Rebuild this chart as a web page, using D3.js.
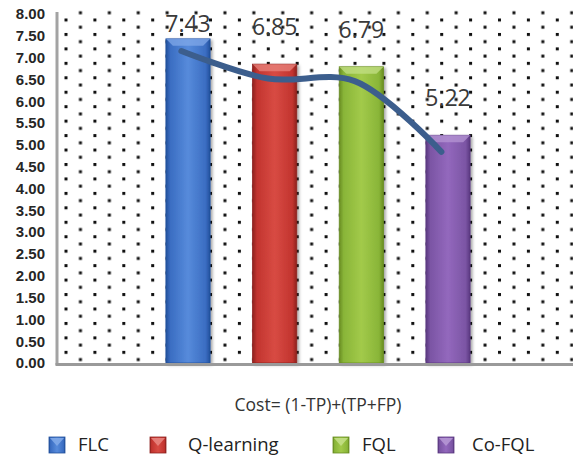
<!DOCTYPE html>
<html>
<head>
<meta charset="utf-8">
<script src="https://cdn.jsdelivr.net/npm/d3@7"></script>
<style>
  html, body { margin: 0; padding: 0; background: #fff; }
  svg { display: block; }
</style>
</head>
<body>
<script>
// Chart data
const categories = ["FLC", "Q-learning", "FQL", "Co-FQL"];
const costValues = [7.43, 6.85, 6.79, 5.22];
const trendValues = [7.15, 6.52, 6.46, 4.84];
const yTicks = [0, 0.5, 1, 1.5, 2, 2.5, 3, 3.5, 4, 4.5, 5, 5.5, 6, 6.5, 7, 7.5, 8];
const axisTitle = "Cost= (1-TP)+(TP+FP)";

// Bar palettes: dark edge, body, highlight, bevel
const palettes = [
  { dark: "#22509c", body: "#3a6dc2", light: "#578bdb", bevel: "#80a8e8" },
  { dark: "#8e221e", body: "#c2342f", light: "#d84b43", bevel: "#e8847e" },
  { dark: "#688c22", body: "#89b538", light: "#a2ca4a", bevel: "#c3df86" },
  { dark: "#5a3880", body: "#7b55a4", light: "#9368bd", bevel: "#b596d4" }
];

const W = 573, H = 458;
const plot = { left: 58, right: 578, top: 14, bottom: 363 };

const svg = d3.select("body").append("svg")
  .attr("width", W).attr("height", H)
  .style("font-family", "'Open Sans', sans-serif");

const defs = svg.append("defs");

// Staggered dot grid behind the bars
const pat = defs.append("pattern")
  .attr("id", "dots")
  .attr("patternUnits", "userSpaceOnUse")
  .attr("x", 64.5).attr("y", 4.05)
  .attr("width", 28.9).attr("height", 14.45);
pat.append("rect").attr("x", 0).attr("y", 0).attr("width", 3).attr("height", 3).attr("fill", "#111");
pat.append("rect").attr("x", 14.45).attr("y", 7.225).attr("width", 3).attr("height", 3).attr("fill", "#111");

palettes.forEach((p, i) => {
  const g = defs.append("linearGradient").attr("id", "barGrad" + i)
    .attr("x1", "0%").attr("x2", "100%").attr("y1", "0%").attr("y2", "0%");
  g.append("stop").attr("offset", "0%").attr("stop-color", p.dark);
  g.append("stop").attr("offset", "10%").attr("stop-color", p.body);
  g.append("stop").attr("offset", "50%").attr("stop-color", p.light);
  g.append("stop").attr("offset", "90%").attr("stop-color", p.body);
  g.append("stop").attr("offset", "100%").attr("stop-color", p.dark);
});

const shadow = defs.append("filter").attr("id", "shadow")
  .attr("x", "-20%").attr("y", "-5%").attr("width", "150%").attr("height", "115%");
shadow.append("feDropShadow").attr("dx", 2).attr("dy", 1.5)
  .attr("stdDeviation", 1.6).attr("flood-color", "#000").attr("flood-opacity", 0.35);

// Scales
const x = d3.scaleBand()
  .domain(categories)
  .range([plot.left, plot.right])
  .paddingInner(0.49)
  .paddingOuter(1.245);

const y = d3.scaleLinear().domain([0, 8]).range([plot.bottom, plot.top]);

// Plot area background
svg.append("rect")
  .attr("x", plot.left).attr("y", 10)
  .attr("width", W - plot.left).attr("height", plot.bottom - 10)
  .attr("fill", "url(#dots)");

// Y axis labels
const yAxis = d3.axisLeft(y)
  .tickValues(yTicks)
  .tickFormat(d3.format(".2f"))
  .tickSize(0)
  .tickPadding(13);

const yg = svg.append("g")
  .attr("transform", `translate(${plot.left},0)`)
  .call(yAxis);
yg.select(".domain").remove();
yg.selectAll("text")
  .attr("font-family", "'Liberation Sans', Arial, sans-serif")
  .attr("font-weight", "bold")
  .attr("font-size", "15px")
  .attr("fill", "#262626");

// Bars
const bw = x.bandwidth();
const bars = svg.append("g").selectAll("g.bar")
  .data(categories.map((c, i) => ({ c, v: costValues[i], i })))
  .join("g").attr("class", "bar");

bars.append("rect")
  .attr("x", d => x(d.c))
  .attr("y", d => y(d.v))
  .attr("width", bw)
  .attr("height", d => y(0) - y(d.v))
  .attr("fill", d => `url(#barGrad${d.i})`)
  .attr("stroke", d => palettes[d.i].dark)
  .attr("stroke-width", 0.8)
  .attr("filter", "url(#shadow)");

// Bevelled top facet
bars.append("path")
  .attr("d", d => {
    const x0 = x(d.c), x1 = x0 + bw, t = y(d.v), b = 7;
    return `M${x0},${t}L${x1},${t}L${x1 - b},${t + b}L${x0 + b},${t + b}Z`;
  })
  .attr("fill", d => palettes[d.i].bevel)
  .attr("opacity", 0.75);

// Axis lines
svg.append("line")
  .attr("x1", plot.left - 1).attr("x2", plot.left - 1)
  .attr("y1", 12).attr("y2", plot.bottom + 2)
  .attr("stroke", "#a3a3a3").attr("stroke-width", 3);
svg.append("line")
  .attr("x1", plot.left - 2.5).attr("x2", W)
  .attr("y1", plot.bottom + 1.5).attr("y2", plot.bottom + 1.5)
  .attr("stroke", "#9a9a9a").attr("stroke-width", 3);

// Smoothed trend line
const line = d3.line()
  .x((d, i) => x(categories[i]) + bw * 0.35)
  .y(d => y(d))
  .curve(d3.curveCatmullRom.alpha(0.5));

svg.append("path")
  .datum(trendValues)
  .attr("d", line)
  .attr("fill", "none")
  .attr("stroke", "#3c5e8d")
  .attr("stroke-width", 6)
  .attr("stroke-linecap", "round");

// Value labels
svg.append("g").selectAll("text")
  .data(categories.map((c, i) => ({ c, v: costValues[i] })))
  .join("text")
  .attr("x", d => x(d.c) + bw / 2)
  .attr("y", d => Math.max(y(d.v) - 29, 32))
  .attr("text-anchor", "middle")
  .attr("font-size", "23px")
  .attr("fill", "#3a3a3a")
  .text(d => d3.format(".2f")(d.v));

// Axis title
svg.append("text")
  .attr("x", (plot.left + plot.right) / 2)
  .attr("y", 411)
  .attr("text-anchor", "middle")
  .attr("font-size", "17.5px")
  .attr("fill", "#333")
  .text(axisTitle);

// Legend
const legendX = [49, 150, 333, 438];
const legendTextDx = [29, 38, 29, 34];
const lg = svg.append("g").selectAll("g")
  .data(categories.map((c, i) => ({ c, i })))
  .join("g")
  .attr("transform", d => `translate(${legendX[d.i]},437)`);

lg.append("rect")
  .attr("width", 16).attr("height", 16)
  .attr("fill", d => `url(#barGrad${d.i})`)
  .attr("stroke", d => palettes[d.i].dark)
  .attr("stroke-width", 0.8);
lg.append("path")
  .attr("d", "M1,1L15,1L8,9Z")
  .attr("fill", d => palettes[d.i].bevel)
  .attr("opacity", 0.9);
lg.append("text")
  .attr("x", d => legendTextDx[d.i])
  .attr("y", 14)
  .attr("font-size", "18.5px")
  .attr("fill", "#222")
  .text(d => d.c);
</script>
</body>
</html>
